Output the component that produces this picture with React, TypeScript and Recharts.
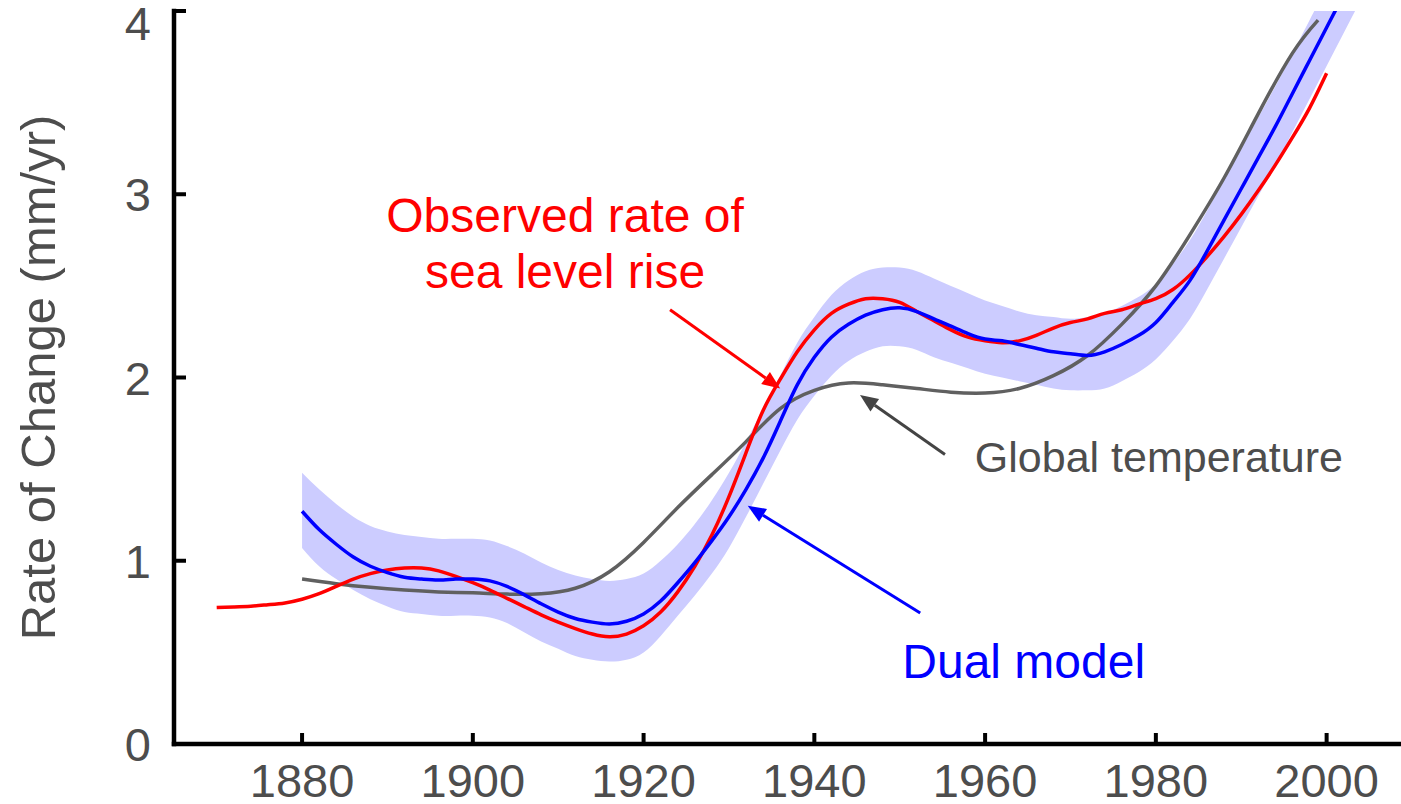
import { ComposedChart, Line, Area, XAxis, YAxis, ReferenceLine, ReferenceDot } from 'recharts';

const FONT = '"Liberation Sans", Arial, sans-serif';
const TEXT_GRAY = '#4d4d4d';
const BAND = '#ccccff';

const xTicks = [1880, 1900, 1920, 1940, 1960, 1980, 2000];
const yTicks = [0, 1, 2, 3, 4];

// observed rate of sea level rise (mm/yr)
const observedYears = [
  1870, 1872, 1874, 1876, 1878, 1880, 1882, 1884, 1886, 1888, 1890, 1892, 1894, 1896, 1898,
  1900, 1902, 1904, 1906, 1908, 1910, 1912, 1914, 1916, 1918, 1920, 1922, 1924, 1926, 1928,
  1930, 1932, 1934, 1936, 1938, 1940, 1942, 1944, 1946, 1948, 1950, 1952, 1954, 1956, 1958,
  1960, 1962, 1964, 1966, 1968, 1970, 1972, 1974, 1976, 1978, 1980, 1982, 1984, 1986, 1988,
  1990, 1992, 1994, 1996, 1998, 2000,
];
const observedRate = [
  0.745, 0.748, 0.752, 0.76, 0.77, 0.79, 0.82, 0.86, 0.9, 0.93, 0.95, 0.96, 0.96, 0.945, 0.915,
  0.88, 0.84, 0.795, 0.75, 0.705, 0.665, 0.63, 0.6, 0.585, 0.6, 0.645, 0.72, 0.83, 0.97, 1.14,
  1.35, 1.59, 1.82, 1.99, 2.14, 2.26, 2.35, 2.4, 2.43, 2.43, 2.41, 2.36, 2.31, 2.26, 2.22,
  2.2, 2.19, 2.2, 2.23, 2.27, 2.3, 2.32, 2.35, 2.37, 2.4, 2.43, 2.48, 2.56, 2.66, 2.77,
  2.89, 3.02, 3.16, 3.31, 3.47, 3.66,
];

// dual model fit and its uncertainty band
const modelYears = [
  1880, 1882, 1884, 1886, 1888, 1890, 1892, 1894, 1896, 1898, 1900, 1902, 1904, 1906, 1908,
  1910, 1912, 1914, 1916, 1918, 1920, 1922, 1924, 1926, 1928, 1930, 1932, 1934, 1936, 1938,
  1940, 1942, 1944, 1946, 1948, 1950, 1952, 1954, 1956, 1958, 1960, 1962, 1964, 1966, 1968,
  1970, 1972, 1974, 1976, 1978, 1980, 1982, 1984, 1986, 1988, 1990, 1992, 1994, 1996, 1998,
  2000, 2002, 2004,
];
const modelRate = [
  1.27, 1.17, 1.09, 1.02, 0.97, 0.935, 0.91, 0.9, 0.895, 0.9, 0.9, 0.89, 0.86, 0.815, 0.765,
  0.72, 0.685, 0.665, 0.655, 0.67, 0.71, 0.78, 0.88, 0.99, 1.11, 1.24, 1.39, 1.56, 1.76, 1.96,
  2.11, 2.22, 2.29, 2.34, 2.37, 2.38, 2.36, 2.32, 2.28, 2.24, 2.21, 2.2, 2.18, 2.16, 2.14,
  2.13, 2.12, 2.14, 2.18, 2.23, 2.3, 2.41, 2.53, 2.69, 2.86, 3.03, 3.2, 3.37, 3.55, 3.73,
  3.91, 4.09, 4.27,
];
const modelLow = [
  1.07, 0.97, 0.9, 0.84, 0.79, 0.75, 0.72, 0.71, 0.7, 0.7, 0.7, 0.69, 0.66, 0.61, 0.56,
  0.52, 0.48, 0.46, 0.45, 0.46, 0.5, 0.59, 0.7, 0.81, 0.93, 1.07, 1.24, 1.42, 1.6, 1.77,
  1.9, 2.01, 2.09, 2.14, 2.17, 2.17, 2.15, 2.11, 2.08, 2.05, 2.02, 2.0, 1.98, 1.96, 1.94,
  1.93, 1.93, 1.94, 1.98, 2.03, 2.1, 2.2, 2.32, 2.48, 2.65, 2.82, 2.99, 3.16, 3.34, 3.52,
  3.7, 3.88, 4.06,
];
const modelHigh = [
  1.48, 1.39, 1.31, 1.24, 1.19, 1.16, 1.14, 1.13, 1.12, 1.12, 1.12, 1.11, 1.08, 1.04, 0.99,
  0.95, 0.92, 0.9, 0.89, 0.9, 0.93, 1.0, 1.09, 1.2, 1.33, 1.48, 1.65, 1.83, 2.01, 2.19,
  2.33, 2.45, 2.53, 2.58, 2.6, 2.6, 2.58, 2.54, 2.5, 2.46, 2.42, 2.39, 2.36, 2.34, 2.33,
  2.32, 2.33, 2.35, 2.39, 2.44, 2.51, 2.62, 2.75, 2.91, 3.08, 3.25, 3.42, 3.59, 3.77, 3.95,
  4.13, 4.31, 4.49,
];

// global temperature, scaled to the same axis
const tempYears = [
  1880, 1884, 1888, 1892, 1896, 1900, 1904, 1908, 1912, 1916, 1920, 1924, 1928, 1932, 1936,
  1940, 1944, 1948, 1952, 1956, 1960, 1964, 1968, 1972, 1976, 1980, 1984, 1988, 1992, 1996,
  1999,
];
const tempRate = [
  0.9, 0.875, 0.855, 0.84, 0.83, 0.825, 0.818, 0.82, 0.85, 0.94, 1.1, 1.29, 1.47, 1.65, 1.83,
  1.93, 1.97, 1.96, 1.94, 1.92, 1.915, 1.94, 2.01, 2.12, 2.29, 2.5, 2.78, 3.09, 3.44, 3.77,
  3.95,
];

const observedData = observedYears.map((year, i) => ({ year, rate: observedRate[i] }));
const modelData = modelYears.map((year, i) => ({ year, rate: modelRate[i] }));
const bandData = modelYears.map((year, i) => ({ year, range: [modelLow[i], modelHigh[i]] }));
const tempData = tempYears.map((year, i) => ({ year, rate: tempRate[i] }));

// annotation arrows, tail -> head in data units
const arrows = [
  { color: '#ff0000', from: { x: 1923.1, y: 2.37 }, to: { x: 1936.0, y: 1.94 } },
  { color: '#444444', from: { x: 1955.3, y: 1.58 }, to: { x: 1945.35, y: 1.905 } },
  { color: '#0000ff', from: { x: 1952.4, y: 0.715 }, to: { x: 1932.2, y: 1.3 } },
];

const axisLine = { stroke: '#000', strokeWidth: 4.5, strokeLinecap: 'square' as const };

const BottomTick = ({ x, y, payload }: any) => (
  <g>
    <line x1={x} y1={y} x2={x} y2={y - 11} stroke="#000" strokeWidth={4} />
    <text x={x} y={y + 53} textAnchor="middle" fontSize={47} fill={TEXT_GRAY} fontFamily={FONT}>
      {payload.value}
    </text>
  </g>
);

const TopTick = ({ x, y }: any) => (
  <line x1={x} y1={y} x2={x} y2={y + 11} stroke="#000" strokeWidth={4} />
);

const LeftTick = ({ x, y, payload }: any) => {
  // keep the top label inside the page
  const cy = Math.max(y, 23);
  return (
    <g>
      <line x1={x} y1={y} x2={x + 12} y2={y} stroke="#000" strokeWidth={4} />
      <text x={x - 23} y={cy + 17} textAnchor="end" fontSize={47} fill={TEXT_GRAY} fontFamily={FONT}>
        {payload.value}
      </text>
    </g>
  );
};

const RightTick = ({ x, y }: any) => (
  <line x1={x} y1={y} x2={x - 12} y2={y} stroke="#000" strokeWidth={4} />
);

const arrowShape = (color: string) => (props: any) => {
  const { x1, y1, x2, y2 } = props;
  const ang = Math.atan2(y2 - y1, x2 - x1);
  const len = 18;
  const half = 7.5;
  const bx = x2 - len * Math.cos(ang);
  const by = y2 - len * Math.sin(ang);
  const px = -Math.sin(ang) * half;
  const py = Math.cos(ang) * half;
  return (
    <g>
      <line x1={x1} y1={y1} x2={bx} y2={by} stroke={color} strokeWidth={3} />
      <polygon points={`${x2},${y2} ${bx + px},${by + py} ${bx - px},${by - py}`} fill={color} />
    </g>
  );
};

const YLabel = ({ viewBox }: any) => {
  const cx = viewBox.x + 55;
  const cy = viewBox.y + viewBox.height / 2;
  return (
    <text
      transform={`translate(${cx},${cy}) rotate(-90)`}
      textAnchor="middle"
      fontSize={49}
      fill={TEXT_GRAY}
      fontFamily={FONT}
    >
      Rate of Change (mm/yr)
    </text>
  );
};

export default function App() {
  return (
    <div
      style={{
        position: 'absolute',
        left: 0,
        top: 0,
        width: 1401,
        height: 804,
        overflow: 'hidden',
        background: '#fff',
      }}
    >
      <ComposedChart width={1420} height={804} margin={{ top: 11, right: 8, bottom: 0, left: 0 }}>
        <XAxis
          dataKey="year"
          type="number"
          domain={[1865, 2010]}
          ticks={xTicks}
          allowDataOverflow
          height={60}
          tickSize={0}
          tickMargin={0}
          tickLine={false}
          axisLine={axisLine}
          tick={<BottomTick />}
        />
        <XAxis
          xAxisId="top"
          orientation="top"
          type="number"
          domain={[1865, 2010]}
          ticks={xTicks}
          allowDataOverflow
          height={0}
          tickSize={0}
          tickMargin={0}
          tickLine={false}
          axisLine={axisLine}
          tick={<TopTick />}
        />
        <YAxis
          type="number"
          domain={[0, 4]}
          ticks={yTicks}
          allowDataOverflow
          width={174}
          tickSize={0}
          tickMargin={0}
          tickLine={false}
          axisLine={axisLine}
          tick={<LeftTick />}
          label={{ content: <YLabel /> }}
        />
        <YAxis
          yAxisId="right"
          orientation="right"
          type="number"
          domain={[0, 4]}
          ticks={yTicks}
          allowDataOverflow
          width={0}
          tickSize={0}
          tickMargin={0}
          tickLine={false}
          axisLine={axisLine}
          tick={<RightTick />}
        />

        <Area
          data={bandData}
          dataKey="range"
          type="natural"
          stroke="none"
          fill={BAND}
          fillOpacity={1}
          isAnimationActive={false}
          activeDot={false}
        />
        <Line
          data={tempData}
          dataKey="rate"
          type="natural"
          stroke="#606060"
          strokeWidth={3.5}
          dot={false}
          activeDot={false}
          isAnimationActive={false}
        />
        <Line
          data={observedData}
          dataKey="rate"
          type="natural"
          stroke="#ff0000"
          strokeWidth={3.5}
          dot={false}
          activeDot={false}
          isAnimationActive={false}
        />
        <Line
          data={modelData}
          dataKey="rate"
          type="natural"
          stroke="#0000ff"
          strokeWidth={3.5}
          dot={false}
          activeDot={false}
          isAnimationActive={false}
        />

        {arrows.map((a, i) => (
          <ReferenceLine
            key={i}
            segment={[a.from, a.to]}
            ifOverflow="visible"
            shape={arrowShape(a.color)}
          />
        ))}

        <ReferenceDot
          x={1910.8}
          y={2.794}
          r={0}
          ifOverflow="visible"
          shape={(p: any) => (
            <text x={p.cx} y={p.cy} textAnchor="middle" fontSize={48} fill="#ff0000" fontFamily={FONT}>
              <tspan x={p.cx}>Observed rate of</tspan>
              <tspan x={p.cx} dy={56}>sea level rise</tspan>
            </text>
          )}
        />
        <ReferenceDot
          x={1958.8}
          y={1.484}
          r={0}
          ifOverflow="visible"
          shape={(p: any) => (
            <text x={p.cx} y={p.cy} textAnchor="start" fontSize={43} fill={TEXT_GRAY} fontFamily={FONT}>
              Global temperature
            </text>
          )}
        />
        <ReferenceDot
          x={1950.3}
          y={0.36}
          r={0}
          ifOverflow="visible"
          shape={(p: any) => (
            <text x={p.cx} y={p.cy} textAnchor="start" fontSize={48} fill="#0000ff" fontFamily={FONT}>
              Dual model
            </text>
          )}
        />
      </ComposedChart>
    </div>
  );
}
